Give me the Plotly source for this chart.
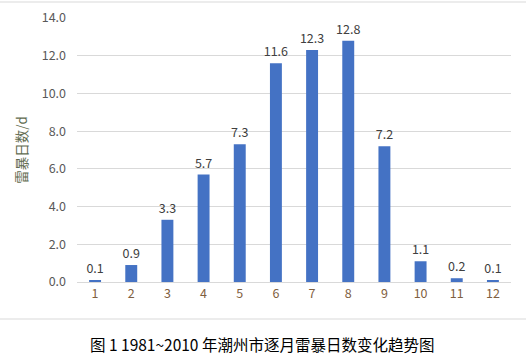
import plotly.graph_objects as go

months = ["1", "2", "3", "4", "5", "6", "7", "8", "9", "10", "11", "12"]
days = [0.1, 0.9, 3.3, 5.7, 7.3, 11.6, 12.3, 12.8, 7.2, 1.1, 0.2, 0.1]
y_ticks = [0, 2, 4, 6, 8, 10, 12, 14]
y_tick_labels = ["0.0", "2.0", "4.0", "6.0", "8.0", "10.0", "12.0", "14.0"]
y_title = "雷暴日数/d"
caption = "图 1 1981~2010 年潮州市逐月雷暴日数变化趋势图"

font_family = "Noto Sans CJK SC, Noto Sans, sans-serif"

fig = go.Figure(go.Bar(
    x=months, y=days,
    marker=dict(color="#4472C4", line=dict(width=0)),
    text=[f"{v:.1f}" for v in days],
    textposition="outside",
    constraintext="none",
    textfont=dict(color="#404040", size=12.5, family=font_family),
    cliponaxis=False,
    width=0.33,
    hoverinfo="skip",
))

PH = 264
PW = 434

fig.update_layout(
    width=526, height=356,
    margin=dict(l=77, r=15, t=18, b=74, autoexpand=False),
    paper_bgcolor="white", plot_bgcolor="white",
    showlegend=False,
    font=dict(family=font_family, size=12, color="#595959"),
    xaxis=dict(
        type="category", showgrid=False, showline=True, linecolor="#d9d9d9",
        linewidth=1, ticks="", tickfont=dict(color="#7f6040", size=12.5),
        automargin=False,
    ),
    yaxis=dict(
        range=[0, 14], tickvals=y_ticks, ticktext=y_tick_labels,
        showgrid=True, gridcolor="#d9d9d9", gridwidth=1, zeroline=False,
        showline=False, ticks="", ticklabelstandoff=10, automargin=False,
        tickfont=dict(color="#595959", size=12.5),
        title=dict(text=y_title, font=dict(color="#5f6b50", size=13.5), standoff=10),
    ),
    shapes=[
        dict(type="line", xref="paper", yref="paper", x0=-77/PW, x1=1+15/PW,
             y0=1+16/PH, y1=1+16/PH, line=dict(color="#d9d9d9", width=1)),
        dict(type="line", xref="paper", yref="paper", x0=-77/PW, x1=1+15/PW,
             y0=-37/PH, y1=-37/PH, line=dict(color="#d9d9d9", width=1)),
    ],
    annotations=[
        dict(text=caption, xref="paper", yref="paper", x=(262-77)/PW, y=-62/PH,
             showarrow=False, xanchor="center", yanchor="middle",
             font=dict(color="#000000", size=15.5, family=font_family)),
    ],
)

fig.write_html("out.html", config={"displayModeBar": False},
               post_script="document.body.style.margin='0';")
